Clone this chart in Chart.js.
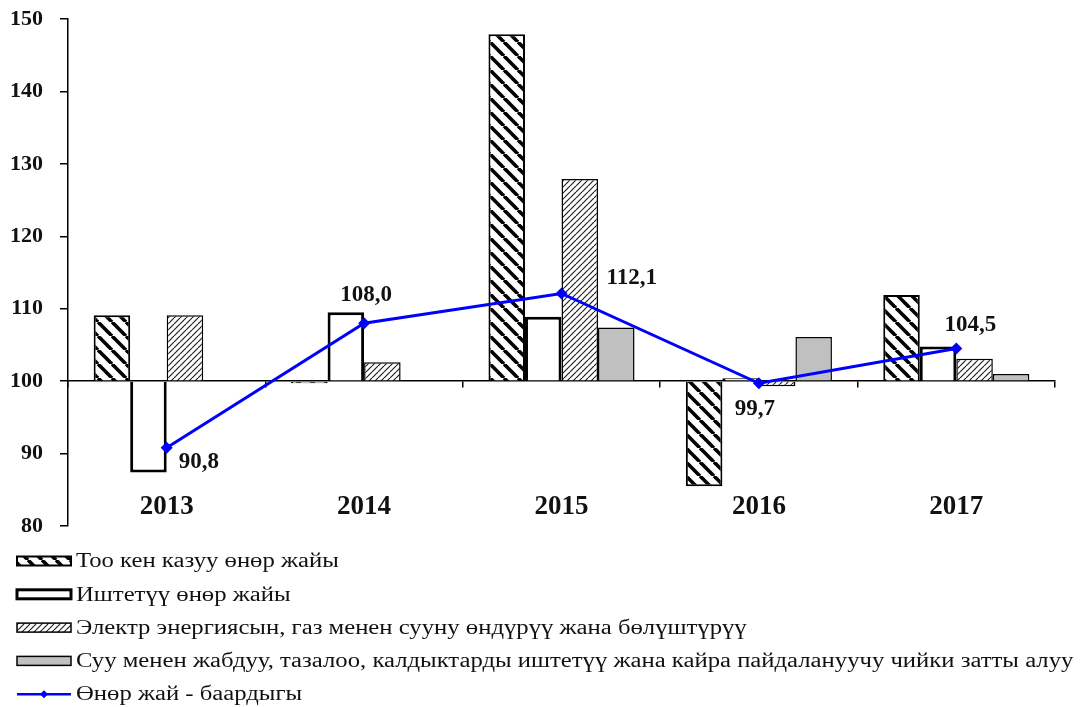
<!DOCTYPE html>
<html><head><meta charset="utf-8">
<script src="https://cdn.jsdelivr.net/npm/chart.js@4.4.1/dist/chart.umd.min.js"></script>
<style>html,body{margin:0;padding:0;background:#fff;overflow:hidden}</style>
</head><body>
<canvas id="c" width="1080" height="707"></canvas>
<script>
const categories = ['2013', '2014', '2015', '2016', '2017'];
const seriesNames = [
  'Тоо кен казуу өнөр жайы',
  'Иштетүү өнөр жайы',
  'Электр энергиясын, газ менен сууну өндүрүү жана бөлүштүрүү',
  'Суу менен жабдуу, тазалоо, калдыктарды иштетүү жана кайра пайдалануучу чийки затты алуу',
  'Өнөр жай - баардыгы'
];
const mining        = [109.1, 99.7, 147.9, 85.5, 111.9];
const manufacturing = [87.4, 109.5, 108.9, 100.4, 104.8];
const electricity   = [109.1, 102.6, 127.9, 99.3, 103.1];
const waterSupply   = [null, null, 107.4, 106.1, 101.0];
const industryTotal = [90.8, 108.0, 112.1, 99.7, 104.5];
const yTickValues   = [80, 90, 100, 110, 120, 130, 140, 150];

const canvas = document.getElementById('c');
const mainCtx = canvas.getContext('2d');

function hatch(size, lw, color, dir) {
  const t = document.createElement('canvas');
  t.width = t.height = size;
  const x = t.getContext('2d');
  x.fillStyle = '#fff'; x.fillRect(0, 0, size, size);
  x.strokeStyle = color; x.lineWidth = lw;
  for (const o of [-size, 0, size]) {
    x.beginPath();
    if (dir === 'back') { x.moveTo(o, 0); x.lineTo(o + size, size); }
    else { x.moveTo(o, size); x.lineTo(o + size, 0); }
    x.stroke();
  }
  return mainCtx.createPattern(t, 'repeat');
}
const miningFill = hatch(14, 3.6, '#000', 'back');
const elecFill = hatch(6, 1.2, '#222', 'fwd');

const SERIF = '"Liberation Serif", "DejaVu Serif", "Times New Roman", serif';
const fmt = v => v.toFixed(1).replace('.', ',');

const valueLabels = {
  id: 'valueLabels',
  afterDatasetsDraw(chart, args, opts) {
    const meta = chart.getDatasetMeta(4);
    const ctx = chart.ctx;
    ctx.save();
    ctx.font = 'bold 23px ' + SERIF;
    ctx.fillStyle = '#111';
    ctx.textBaseline = 'middle';
    meta.data.forEach((pt, i) => {
      const p = opts.placement[i];
      ctx.textAlign = p.align;
      ctx.fillText(fmt(industryTotal[i]), pt.x + p.dx, pt.y + p.dy);
    });
    ctx.restore();
  }
};

const customLegend = {
  id: 'customLegend',
  afterDraw(chart, args, opts) {
    const ctx = chart.ctx;
    ctx.save();
    chart.data.datasets.forEach((ds, i) => {
      const y = opts.top + i * opts.rowGap;
      const x0 = opts.left, w = opts.boxWidth, h = opts.boxHeight;
      if (ds.type === 'line') {
        ctx.strokeStyle = ds.borderColor; ctx.lineWidth = 2.5;
        ctx.beginPath(); ctx.moveTo(x0, y); ctx.lineTo(x0 + w, y); ctx.stroke();
        ctx.fillStyle = ds.borderColor;
        const cx = x0 + w / 2;
        ctx.beginPath(); ctx.moveTo(cx, y - 4); ctx.lineTo(cx + 4, y); ctx.lineTo(cx, y + 4); ctx.lineTo(cx - 4, y); ctx.closePath(); ctx.fill();
      } else {
        ctx.fillStyle = ds.backgroundColor;
        ctx.fillRect(x0, y - h / 2, w, h);
        ctx.strokeStyle = ds.borderColor; ctx.lineWidth = ds.borderWidth;
        ctx.strokeRect(x0, y - h / 2, w, h);
      }
      ctx.fillStyle = '#111';
      ctx.font = opts.font;
      ctx.textBaseline = 'middle';
      ctx.textAlign = 'left';
      ctx.save();
      ctx.translate(x0 + w + opts.textGap, y);
      ctx.scale(opts.stretch, 1);
      ctx.fillText(ds.label, 0, 1);
      ctx.restore();
    });
    ctx.restore();
  }
};

new Chart(canvas, {
  type: 'bar',
  data: {
    labels: categories,
    datasets: [
      { label: seriesNames[0], data: mining, base: 100, backgroundColor: miningFill, borderColor: '#000', borderWidth: 2, order: 2 },
      { label: seriesNames[1], data: manufacturing, base: 100, backgroundColor: '#fff', borderColor: '#000', borderWidth: 3, order: 2 },
      { label: seriesNames[2], data: electricity, base: 100, backgroundColor: elecFill, borderColor: '#000', borderWidth: 1.5, order: 2 },
      { label: seriesNames[3], data: waterSupply, base: 100, backgroundColor: '#c0c0c0', borderColor: '#000', borderWidth: 1.5, order: 2 },
      { type: 'line', label: seriesNames[4], data: industryTotal, borderColor: '#0000ff', backgroundColor: '#0000ff',
        borderWidth: 3, pointStyle: 'rectRot', pointRadius: 6, pointBackgroundColor: '#0000ff', pointBorderWidth: 0, tension: 0, order: 1 }
    ]
  },
  options: {
    responsive: false,
    animation: false,
    devicePixelRatio: 1,
    categoryPercentage: 0.74,
    barPercentage: 1.0,
    layout: { padding: { left: 0, right: 25, top: 19, bottom: 181 } },
    plugins: {
      legend: { display: false },
      tooltip: { enabled: false },
      valueLabels: {
        placement: [
          { align: 'left', dx: 12, dy: 14 },
          { align: 'center', dx: 2, dy: -28 },
          { align: 'left', dx: 45, dy: -15 },
          { align: 'center', dx: -4, dy: 26 },
          { align: 'center', dx: 14, dy: -23 }
        ]
      },
      customLegend: { left: 17, top: 561, rowGap: 33.3, boxWidth: 54, boxHeight: 9, textGap: 5, font: '20px ' + SERIF, stretch: 1.235 }
    },
    scales: {
      x: {
        position: { y: 100 },
        offset: true,
        afterFit(scale) { scale.paddingLeft = 0; scale.paddingRight = 0; },
        grid: { display: true, offset: true, drawOnChartArea: false, drawTicks: true, tickLength: 6, color: '#000', lineWidth: 1.5 },
        border: { display: true, color: '#000', width: 1.5 },
        ticks: { color: '#111', padding: 104, font: { family: SERIF, size: 27, weight: 'bold' }, maxRotation: 0 }
      },
      y: {
        position: 'left',
        min: 80, max: 150,
        afterFit(scale) { scale.width = 68; scale.paddingTop = 0; scale.paddingBottom = 0; },
        afterBuildTicks(scale) { scale.ticks = yTickValues.map(v => ({ value: v })); },
        grid: { display: true, drawOnChartArea: false, drawTicks: true, tickLength: 8, color: '#000', lineWidth: 1.5 },
        border: { display: true, color: '#000', width: 1.5 },
        ticks: { color: '#111', padding: 17, font: { family: SERIF, size: 22, weight: 'bold' } }
      }
    }
  },
  plugins: [valueLabels, customLegend]
});
</script>
</body></html>
